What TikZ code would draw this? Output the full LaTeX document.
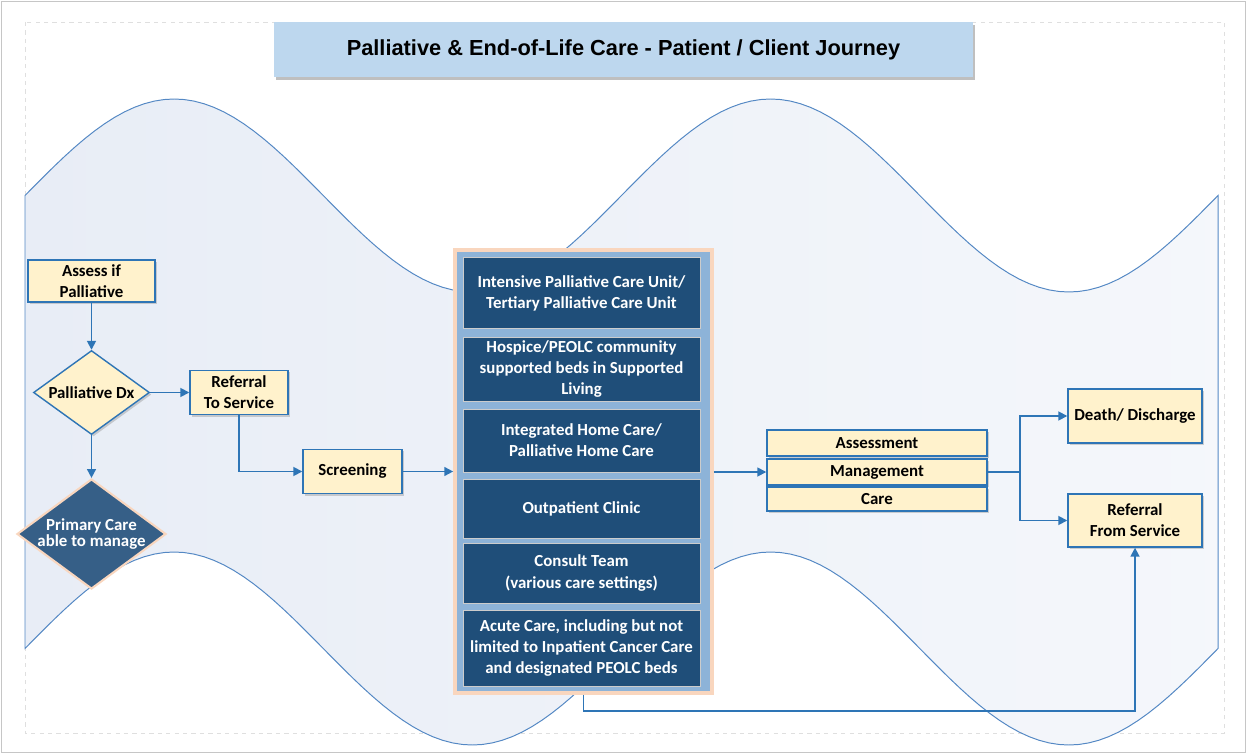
\documentclass[tikz,border=0pt]{standalone}
\usepackage{fontspec}
\setmainfont{Carlito}
\newfontfamily\titlefont{Liberation Sans}
\usetikzlibrary{arrows.meta, shapes.geometric, shadows}

\definecolor{wavefill}{RGB}{232,237,246}
\definecolor{waveline}{RGB}{84,136,196}
\definecolor{titlefill}{RGB}{189,215,238}
\definecolor{boxfill}{RGB}{255,242,204}
\definecolor{boxline}{RGB}{46,117,182}
\definecolor{darkfill}{RGB}{31,78,121}
\definecolor{diafill}{RGB}{54,95,135}
\definecolor{peach}{RGB}{249,214,190}
\definecolor{contfill}{RGB}{141,179,216}

\tikzset{
  yellowbox/.style={draw=boxline, line width=1pt, fill=boxfill, align=center, inner sep=1pt,
    font=\bfseries\fontsize{12}{15}\selectfont,
    drop shadow={opacity=.35, shadow xshift=.5mm, shadow yshift=-.5mm}},
  darkbox/.style={draw=gray!40, line width=.6pt, fill=darkfill, text=white, align=center,
    inner sep=1pt, minimum width=5.925cm, font=\bfseries\fontsize{12}{15}\selectfont},
  conn/.style={draw=boxline, line width=1.2pt},
  flow/.style={-{Triangle[length=2.2mm,width=2.2mm]}}
}

\begin{document}
\begin{tikzpicture}[x=0.025cm, y=-0.025cm]
  \useasboundingbox (0,0) rectangle (1247,754);
  % frame
  \draw[gray!45, line width=.6pt] (1.5,1.5) rectangle (1245.5,752.5);
  \draw[gray!25, dashed, line width=.4pt] (25,22) rectangle (1224,733);

  % wave band
  \path[draw=waveline, line width=.7pt, left color=wavefill, right color=wavefill!45!white]
    plot[domain=25:1218, samples=121] (\x, {195.5-96.5*sin(0.603521*(\x-25))})
    -- plot[domain=1218:25, samples=121] (\x, {648.5-96.5*sin(0.603521*(\x-25))})
    -- cycle;

  % title
  \node[fill=titlefill, minimum width=17.475cm, minimum height=1.375cm,
    font=\titlefont\bfseries\fontsize{15.5}{18}\selectfont,
    drop shadow={opacity=.5, shadow xshift=.5mm, shadow yshift=-.7mm}]
    (title) at (623.5,49.5) {Palliative \& End-of-Life Care - Patient / Client Journey};

  % left flow
  \node[yellowbox, minimum width=3.175cm, minimum height=1.05cm] (assess) at (91.5,281) {Assess if\\Palliative};
  \node[yellowbox, diamond, aspect=1.38, inner sep=0pt, minimum width=2.9cm, minimum height=2.1cm]
    (pdx) at (91.5,392.5) {Palliative Dx};
  \node[diamond, aspect=1.35, inner sep=-3pt, minimum width=3.725cm, minimum height=2.75cm,
    fill=diafill, draw=peach, line width=1.5pt, text=white, align=center,
    font=\bfseries\fontsize{12}{12}\selectfont] (primary) at (91.5,534) {Primary Care\\able to manage};
  \node[yellowbox, minimum width=2.45cm, minimum height=1.1cm] (refto) at (239,392.5) {Referral\\To Service};
  \node[yellowbox, minimum width=2.475cm, minimum height=1.1cm] (screen) at (352.5,471.5) {Screening};

  % care settings
  \node[draw=peach, line width=0.09cm, fill=contfill, minimum width=6.425cm, minimum height=11.075cm,
    inner sep=0pt] (pathways) at (583.5,471.5) {};
  \node[darkbox, minimum height=1.775cm] (ipcu) at (581.5,293) {Intensive Palliative Care Unit/\\Tertiary Palliative Care Unit};
  \node[darkbox, minimum height=1.6cm] (hospice) at (581.5,369) {Hospice/PEOLC community\\supported beds in Supported\\Living};
  \node[darkbox, minimum height=1.575cm] (homecare) at (581.5,440.5) {Integrated Home Care/\\Palliative Home Care};
  \node[darkbox, minimum height=1.475cm] (clinic) at (581.5,508.5) {Outpatient Clinic};
  \node[darkbox, minimum height=1.5cm] (consult) at (581.5,573) {Consult Team\\(various care settings)};
  \node[darkbox, minimum height=1.9cm] (acute) at (581.5,648) {Acute Care, including but not\\limited to Inpatient Cancer Care\\and designated PEOLC beds};

  % right side
  \node[yellowbox, minimum width=5.5cm, minimum height=.65cm] (assessment) at (877,443) {Assessment};
  \node[yellowbox, minimum width=5.5cm, minimum height=.65cm] (mgmt) at (877,472) {Management};
  \node[yellowbox, minimum width=5.5cm, minimum height=.6cm] (care) at (877,499) {Care};
  \node[yellowbox, minimum width=3.35cm, minimum height=1.35cm] (death) at (1135,416) {Death/ Discharge};
  \node[yellowbox, minimum width=3.35cm, minimum height=1.325cm] (reffrom) at (1135,520.5) {Referral\\From Service};
  \coordinate (split) at (1020,472);
  \coordinate (under) at (583.5,711);

  % connectors
  \draw[conn, flow] (assess) -- (pdx);
  \draw[conn, flow] (pdx) -- (refto);
  \draw[conn, flow] (pdx) -- (primary);
  \draw[conn, flow] (refto.south) |- (screen.west);
  \draw[conn, flow] (screen) -- (pathways.west |- screen);
  \draw[conn, flow] (pathways.east |- mgmt) -- (mgmt);
  \draw[conn] (mgmt) -- (split);
  \draw[conn, flow] (split) |- (death);
  \draw[conn, flow] (split) |- (reffrom);
  \draw[conn, flow] (pathways.south) -- (under) -| (reffrom.south);
\end{tikzpicture}
\end{document}
